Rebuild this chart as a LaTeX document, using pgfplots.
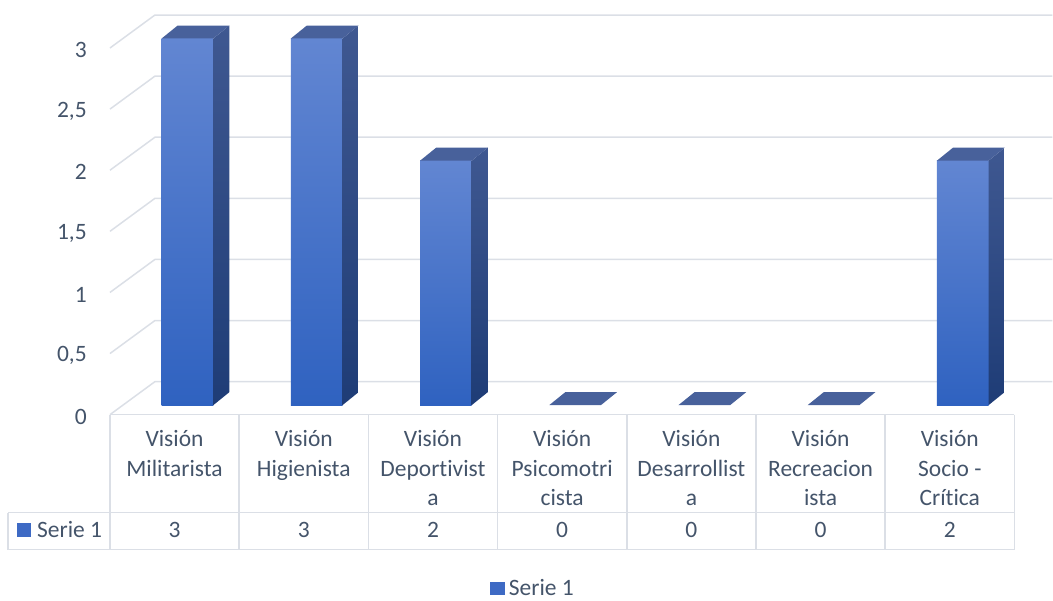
\documentclass[border=0pt]{standalone}
\usepackage{fontspec}
\setmainfont{Carlito}[Ligatures=NoCommon]
\usepackage{pgfplots}
\pgfplotsset{compat=1.18}
\definecolor{txt}{RGB}{68,84,106}
\definecolor{gridc}{RGB}{219,223,230}
\definecolor{frontT}{RGB}{98,134,210}
\definecolor{frontB}{RGB}{47,98,192}
\definecolor{sideT}{RGB}{63,88,145}
\definecolor{sideB}{RGB}{30,60,118}
\definecolor{topc}{RGB}{72,97,155}
\definecolor{keyc}{RGB}{62,106,196}
\tikzset{lbl/.style={font=\fontsize{23.5}{28}\selectfont, text=txt, inner sep=0pt, anchor=base}}
\begin{document}
\begin{tikzpicture}
\begin{axis}[
  x=129.3pt, y=122.3pt,
  xmin=-0.851, xmax=7.293, ymin=-1.521, ymax=3.393,
  scale only axis,
  clip=false,
  axis line style={draw=none},
  tick style={draw=none},
  major tick length=0pt,
  xtick=\empty,
  ytick={0,0.5,1,1.5,2,2.5,3},
  yticklabels={0,{0,5},1,{1,5},2,{2,5},3},
  yticklabel style={anchor=east, inner sep=0pt, xshift=87pt, yshift=-2pt,
    font=\fontsize{23.5}{28}\selectfont, text=txt},
  legend style={at={(axis description cs:0.5057,0.006)}, anchor=south,
    draw=none, fill=none, inner sep=0pt,
    font=\fontsize{23.5}{28}\selectfont, text=txt,
    nodes={inner sep=0pt}},
  legend image code/.code={\fill[keyc] (0pt,-6pt) rectangle (14pt,6pt); \path (18pt,0pt);},
]
% walls: gridlines (left wall diagonals and back wall)
\draw[gridc, line width=1.5pt] (axis cs:0,0)   -- (axis cs:0.348,0.27) -- (axis cs:7.293,0.27);
\draw[gridc, line width=1.5pt] (axis cs:0,0.5) -- (axis cs:0.348,0.77) -- (axis cs:7.293,0.77);
\draw[gridc, line width=1.5pt] (axis cs:0,1)   -- (axis cs:0.348,1.27) -- (axis cs:7.293,1.27);
\draw[gridc, line width=1.5pt] (axis cs:0,1.5) -- (axis cs:0.348,1.77) -- (axis cs:7.293,1.77);
\draw[gridc, line width=1.5pt] (axis cs:0,2)   -- (axis cs:0.348,2.27) -- (axis cs:7.293,2.27);
\draw[gridc, line width=1.5pt] (axis cs:0,2.5) -- (axis cs:0.348,2.77) -- (axis cs:7.293,2.77);
\draw[gridc, line width=1.5pt] (axis cs:0,3)   -- (axis cs:0.348,3.27) -- (axis cs:7.293,3.27);
% data table grid
\draw[gridc, line width=1.5pt] (axis cs:0,0) -- (axis cs:7,0);
\draw[gridc, line width=1.5pt] (axis cs:-0.789,-0.801) -- (axis cs:7,-0.801);
\draw[gridc, line width=1.5pt] (axis cs:-0.789,-1.104) -- (axis cs:7,-1.104);
\draw[gridc, line width=1.5pt] (axis cs:-0.789,-0.801) -- (axis cs:-0.789,-1.104);
\draw[gridc, line width=1.5pt] (axis cs:0,0) -- (axis cs:0,-1.104);
\draw[gridc, line width=1.5pt] (axis cs:1,0) -- (axis cs:1,-1.104);
\draw[gridc, line width=1.5pt] (axis cs:2,0) -- (axis cs:2,-1.104);
\draw[gridc, line width=1.5pt] (axis cs:3,0) -- (axis cs:3,-1.104);
\draw[gridc, line width=1.5pt] (axis cs:4,0) -- (axis cs:4,-1.104);
\draw[gridc, line width=1.5pt] (axis cs:5,0) -- (axis cs:5,-1.104);
\draw[gridc, line width=1.5pt] (axis cs:6,0) -- (axis cs:6,-1.104);
\draw[gridc, line width=1.5pt] (axis cs:7,0) -- (axis cs:7,-1.104);
% bars (Serie 1)
\foreach \i/\h in {0/3,1/3,2/2,3/0,4/0,5/0,6/2}{
  \pgfmathsetmacro\xa{\i+0.40}
  \pgfmathsetmacro\xb{\i+0.80}
  \pgfmathsetmacro\xc{\i+0.924}
  \pgfmathsetmacro\xd{\i+0.524}
  \pgfmathsetmacro\ya{0.078}
  \pgfmathsetmacro\yb{\h+0.078}
  \pgfmathsetmacro\yc{0.184}
  \pgfmathsetmacro\yd{\h+0.184}
  \ifdim\h pt>0pt
    \edef\temp{\noexpand\addplot[forget plot, draw=none, top color=frontT, bottom color=frontB]
      coordinates {(\xa,\ya) (\xb,\ya) (\xb,\yb) (\xa,\yb)} -- cycle;}\temp
    \edef\temp{\noexpand\addplot[forget plot, draw=none, top color=sideT, bottom color=sideB]
      coordinates {(\xb,\ya) (\xc,\yc) (\xc,\yd) (\xb,\yb)} -- cycle;}\temp
  \fi
  \edef\temp{\noexpand\addplot[forget plot, draw=none, fill=topc]
    coordinates {(\xa,\yb) (\xb,\yb) (\xc,\yd) (\xd,\yd)} -- cycle;}\temp
}
% header labels
\node[lbl] at (axis cs:0.5,-0.262) {Visión};
\node[lbl] at (axis cs:0.5,-0.507) {Militarista};
\node[lbl] at (axis cs:1.5,-0.262) {Visión};
\node[lbl] at (axis cs:1.5,-0.507) {Higienista};
\node[lbl] at (axis cs:2.5,-0.262) {Visión};
\node[lbl] at (axis cs:2.5,-0.507) {Deportivist};
\node[lbl] at (axis cs:2.5,-0.744) {a};
\node[lbl] at (axis cs:3.5,-0.262) {Visión};
\node[lbl] at (axis cs:3.5,-0.507) {Psicomotri};
\node[lbl] at (axis cs:3.5,-0.744) {cista};
\node[lbl] at (axis cs:4.5,-0.262) {Visión};
\node[lbl] at (axis cs:4.5,-0.507) {Desarrollist};
\node[lbl] at (axis cs:4.5,-0.744) {a};
\node[lbl] at (axis cs:5.5,-0.262) {Visión};
\node[lbl] at (axis cs:5.5,-0.507) {Recreacion};
\node[lbl] at (axis cs:5.5,-0.744) {ista};
\node[lbl] at (axis cs:6.5,-0.262) {Visión};
\node[lbl] at (axis cs:6.5,-0.507) {Socio -};
\node[lbl] at (axis cs:6.5,-0.744) {Crítica};
% data row
\fill[keyc] (axis cs:-0.719,-0.883) rectangle (axis cs:-0.611,-0.998);
\node[lbl, anchor=base west] at (axis cs:-0.565,-1.002) {Serie 1};
\node[lbl] at (axis cs:0.5,-1.006) {3};
\node[lbl] at (axis cs:1.5,-1.006) {3};
\node[lbl] at (axis cs:2.5,-1.006) {2};
\node[lbl] at (axis cs:3.5,-1.006) {0};
\node[lbl] at (axis cs:4.5,-1.006) {0};
\node[lbl] at (axis cs:5.5,-1.006) {0};
\node[lbl] at (axis cs:6.5,-1.006) {2};
% legend
\addlegendimage{keyc}
\addlegendentry{Serie 1}
\end{axis}
\end{tikzpicture}
\end{document}
